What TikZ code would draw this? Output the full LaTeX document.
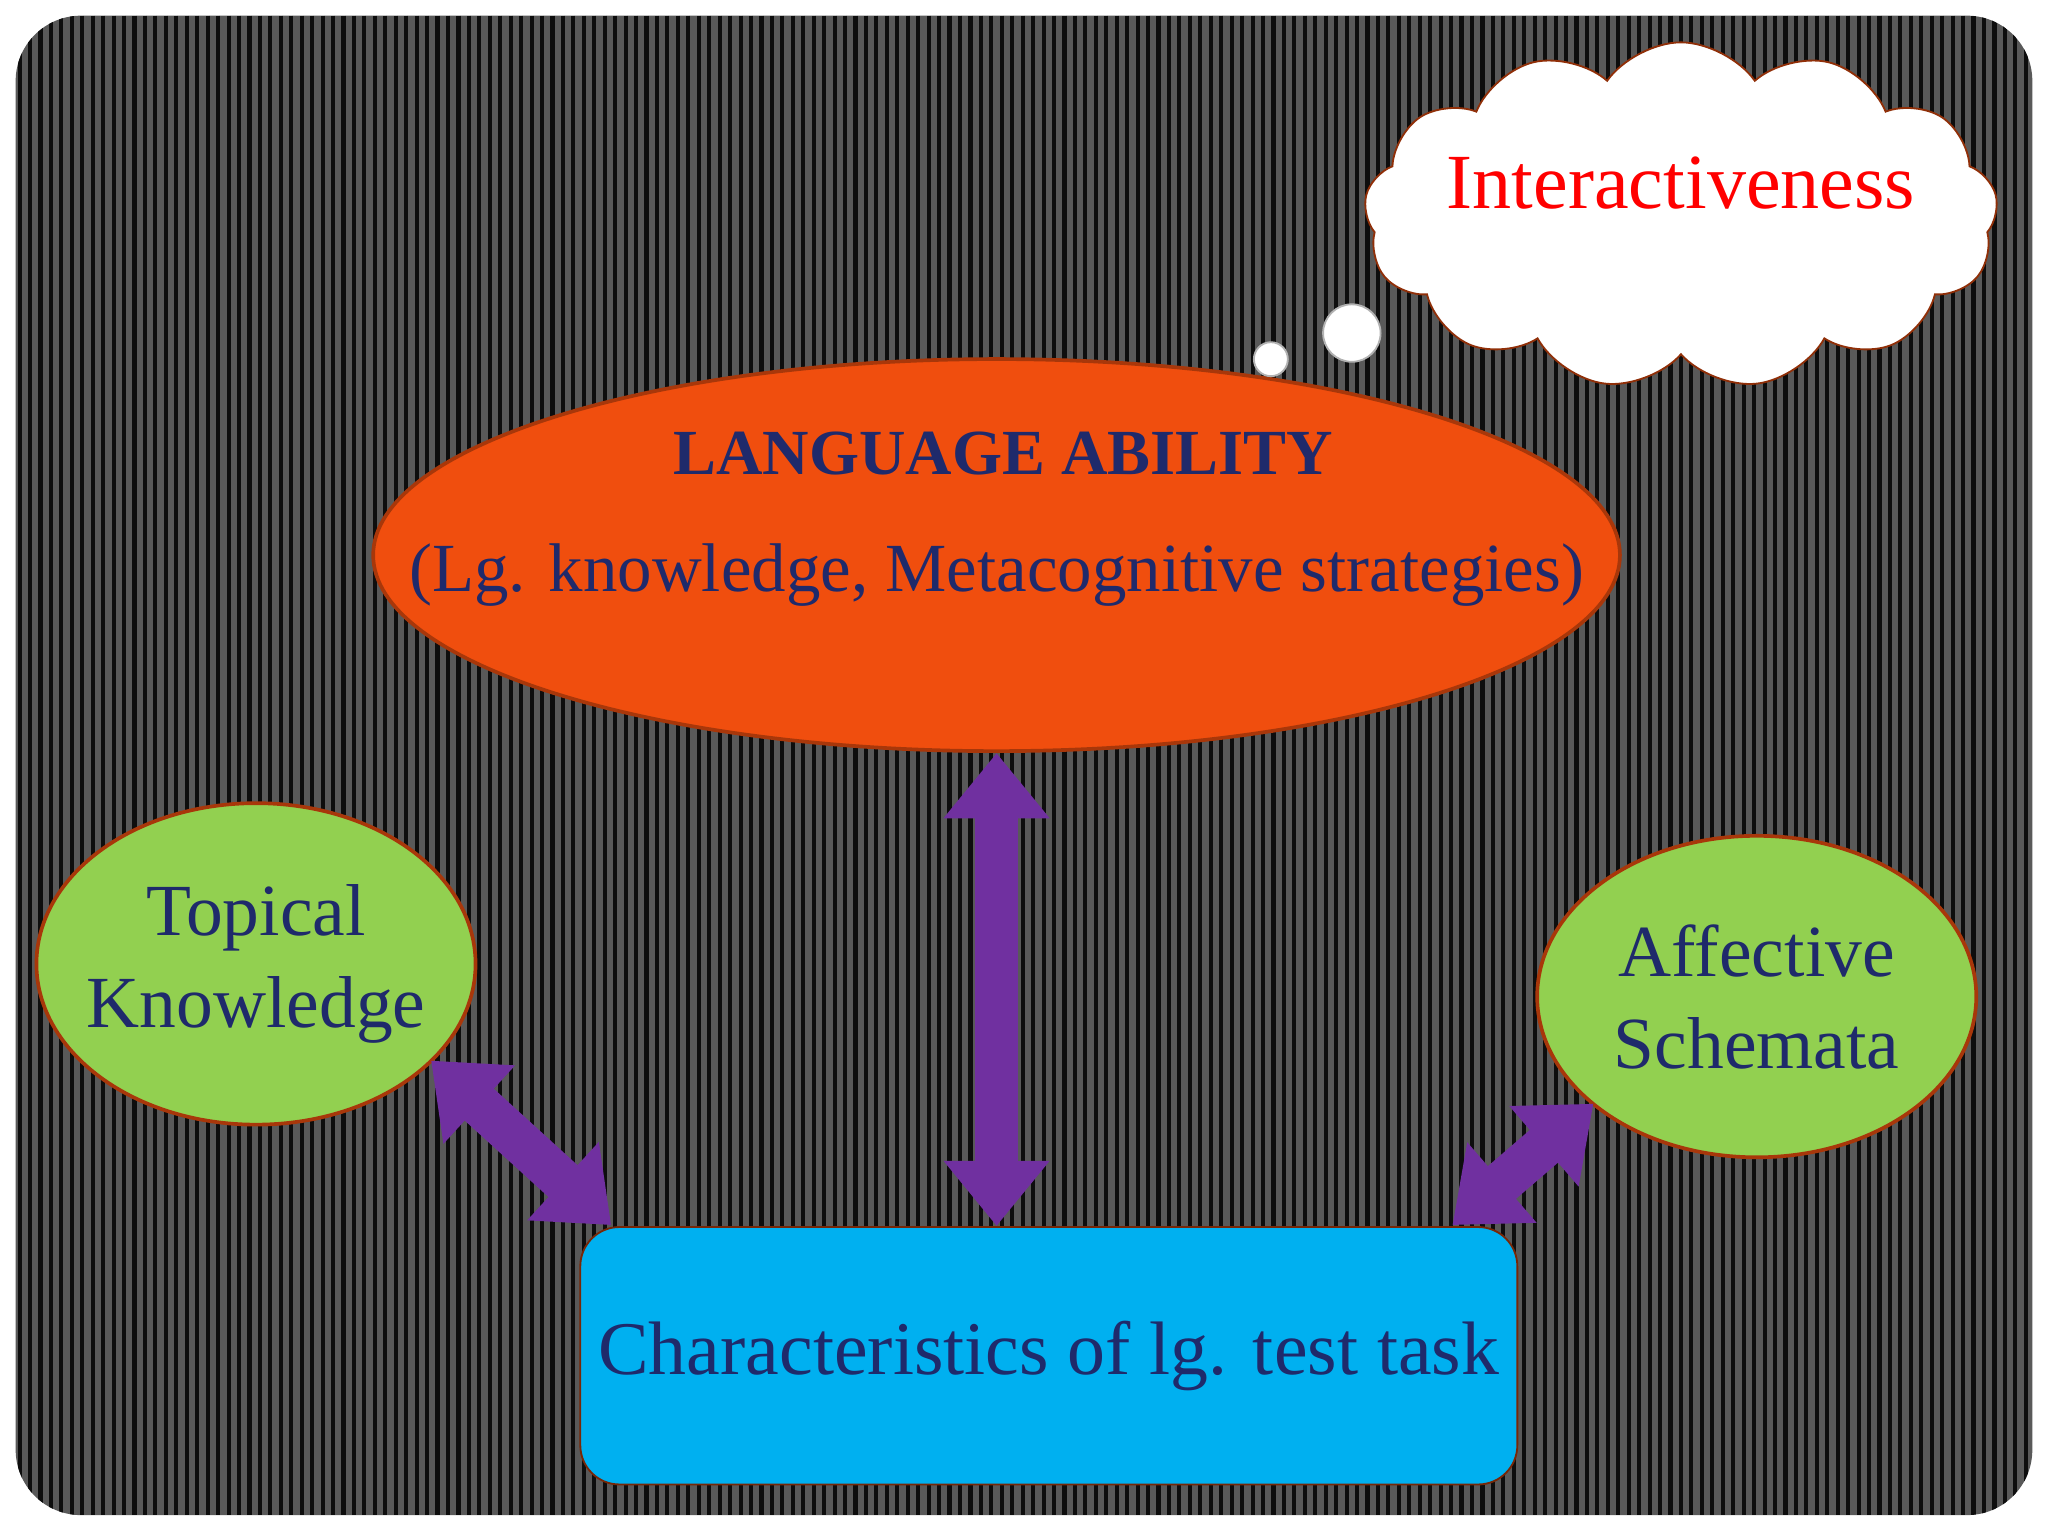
\documentclass[tikz,border=0pt]{standalone}
\usepackage{fontspec}
\setmainfont{Liberation Serif}
\usetikzlibrary{shapes.geometric,shapes.symbols,arrows.meta}
\definecolor{navy}{HTML}{1F2A6B}
\definecolor{orng}{HTML}{F04E0E}
\definecolor{grn}{HTML}{92D050}
\definecolor{sky}{HTML}{00B0F0}
\definecolor{purp}{HTML}{7030A0}
\tikzset{
  lbl/.style={text=navy,align=center,font=\fontsize{15}{18}\selectfont},
  oval/.style={ellipse,draw=orng!70!black,line width=0.8pt,inner sep=0pt},
  dbl/.style={purp,line width=0.33cm,{Triangle[length=0.5cm,width=0.78cm]}-{Triangle[length=0.5cm,width=0.78cm]}}
}
\begin{document}
\begin{tikzpicture}[x=0.01cm,y=-0.01cm]
\fill[white] (0,0) rectangle (1568,1176);
\useasboundingbox (0,0) rectangle (1568,1176);
\fill[black!65, rounded corners=0.5cm] (12,12) rectangle (1556,1160);
\begin{scope}
\clip[rounded corners=0.5cm] (12,12) rectangle (1556,1160);
\foreach \i in {0,...,195} \draw[black!95,line width=0.9pt] ({15+\i*8},12) -- ({15+\i*8},1160);
\end{scope}
\node[oval,fill=orng,minimum width=9.54cm,minimum height=3cm] (lang) at (763,425) {};
\node[lbl,font=\bfseries\fontsize{14}{16}\selectfont] (t1) at (768,347) {LANGUAGE ABILITY};
\node[lbl] (t2) at (763,440) {(Lg. knowledge, Metacognitive strategies)};
\node[oval,fill=grn,minimum width=3.36cm,minimum height=2.46cm] (top) at (196,738) {};
\node[lbl,font=\fontsize{16}{20}\selectfont] (topt) at (top.center) {Topical\\Knowledge};
\node[oval,fill=grn,minimum width=3.36cm,minimum height=2.46cm] (aff) at (1345,763) {};
\node[lbl,font=\fontsize{16}{20}\selectfont] (afft) at (aff.center) {Affective\\Schemata};
\node[fill=sky,rounded corners=0.3cm,draw=orng!50!black,minimum width=7.17cm,minimum height=1.97cm,lbl,font=\fontsize{16.5}{20}\selectfont] (task) at (803,1038) {Characteristics of lg. test task};
\node[cloud,cloud puffs=13,cloud puff arc=110,aspect=1.9,fill=white,draw=orng!60!black,minimum width=4.85cm,minimum height=2.65cm,inner sep=0pt] (cl) at (1287,165) {};
\node[text=red,font=\fontsize{17}{20}\selectfont] (ct) at (1287,140) {Interactiveness};
\node[circle,fill=white,draw=black!30,minimum size=0.44cm,inner sep=0pt] (b1) at (1035,255) {};
\node[circle,fill=white,draw=black!30,minimum size=0.26cm,inner sep=0pt] (b2) at (973,275) {};
\draw[dbl] (lang.south) -- (task.north -| lang.south);
\coordinate (a1) at (330,812);
\coordinate (a2) at (468,938);
\coordinate (a3) at (1220,845);
\coordinate (a4) at (1112,938);
\draw[dbl] (a1) -- (a2);
\draw[dbl] (a3) -- (a4);
\end{tikzpicture}
\end{document}
